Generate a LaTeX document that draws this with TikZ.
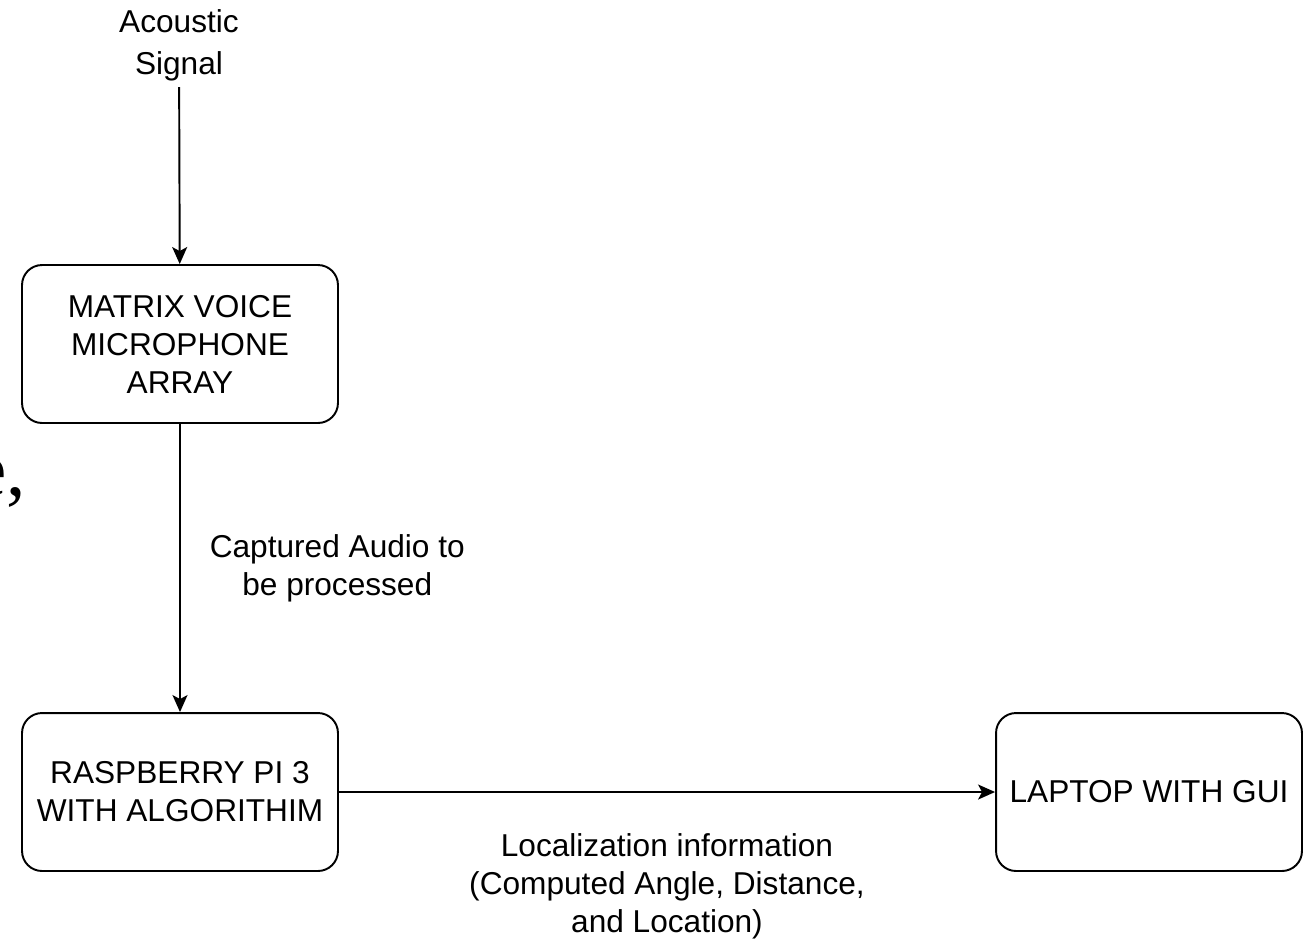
\documentclass[tikz,border=0pt]{standalone}
\usepackage{fontspec}
\setmainfont{Liberation Sans}
\newfontfamily\fragfont{Liberation Serif}
\usetikzlibrary{arrows.meta}

\begin{document}
\begin{tikzpicture}[x=0.02cm, y=-0.02cm,
    box/.style={draw, line width=1.1pt, rounded corners=0.4cm, minimum width=6.32cm,
                minimum height=3.16cm, align=center, font=\fontsize{18}{21.6}\selectfont},
    txt/.style={align=center, font=\fontsize{18}{21.6}\selectfont},
    arr/.style={line width=1.1pt, -{Stealth[length=0.34cm, width=0.3cm, inset=0.08cm]}}]
  \useasboundingbox (0,0) rectangle (1304,938);
  % Nodes
  \node[txt, font=\fontsize{18}{24}\selectfont] (sig) at (179,45) {Acoustic\\Signal};
  \node[box] (mic) at (180,344) {MATRIX VOICE\\MICROPHONE\\ARRAY};
  \node[box] (pi) at (180,792) {RASPBERRY PI 3\\WITH ALGORITHIM};
  \node[box, minimum width=6.12cm] (gui) at (1149,792) {LAPTOP WITH GUI};
  % Edges
  \draw[arr] (sig) -- (mic);
  \draw[arr] (mic) -- (pi) node[txt, midway, right, xshift=0.46cm] {Captured Audio to\\be processed};
  \draw[arr] (pi) -- (gui) node[txt, midway, below=0.7cm] {Localization information\\(Computed Angle, Distance,\\and Location)};
  % Label
  \node[anchor=base east, inner sep=0pt, font=\fontsize{44}{50}\selectfont\fragfont] (frag) at (26,495) {e,};
\end{tikzpicture}
\end{document}
